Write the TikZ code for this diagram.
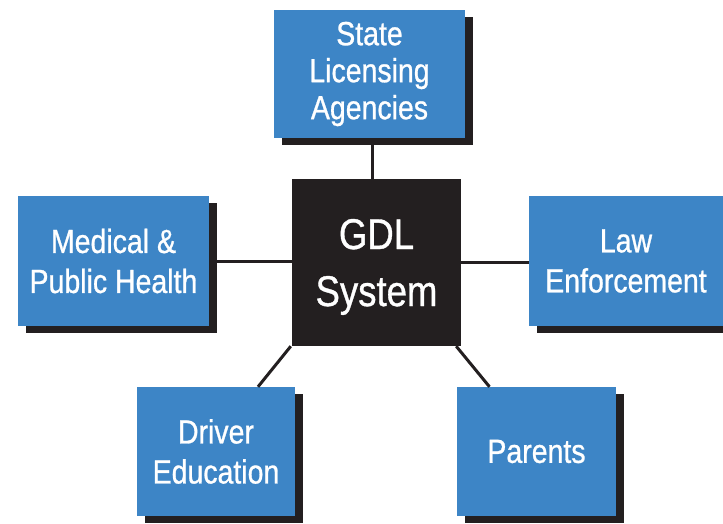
\documentclass[tikz,border=0pt]{standalone}
\usepackage{fontspec}
\usetikzlibrary{calc,shadows}
\newfontfamily\boxfont[FakeStretch=0.85,FakeBold=0.8]{Liberation Sans}
\definecolor{gdlblue}{RGB}{61,133,198}
\definecolor{gdlblack}{RGB}{35,31,32}
\begin{document}
\begin{tikzpicture}[x=1pt,y=-1pt,
    agency/.style={fill=gdlblue, text=white, align=center, inner sep=0pt,
      font=\boxfont\fontsize{33.5}{40}\selectfont,
      drop shadow={shadow xshift=8pt, shadow yshift=-7pt, fill=gdlblack, opacity=1}},
    link/.style={draw=gdlblack, line width=3pt}]
      \useasboundingbox (0,0) rectangle (723,524);
      % centre
      \node (gdl) at (376.5,262.5) [fill=gdlblack, text=white, align=center, inner sep=0pt,
        minimum width=169pt, minimum height=167pt, text depth=0pt,
        font=\boxfont\fontsize{43}{57}\selectfont] {GDL\\System};
      % partners
      \node (sla) at (369.5,74) [agency, minimum width=191pt, minimum height=128pt,
        font=\boxfont\fontsize{33.5}{37}\selectfont] {State\\Licensing\\Agencies};
      \node (med) at (113.5,261) [agency, minimum width=191pt, minimum height=130pt] {Medical \&\\Public Health};
      \node (law) at (626,261) [agency, minimum width=194pt, minimum height=130pt] {Law\\Enforcement};
      \node (drv) at (216,451.5) [agency, minimum width=158pt, minimum height=129pt] {Driver\\Education};
      \node (par) at (536.5,451.5) [agency, minimum width=159pt, minimum height=129pt] {Parents};
      % links
      \draw[link] ($(sla.south)+(3,0)$) -- ($(gdl.north)+(-4,0)$);
      \draw[link] (med.east) -- (med.east -| gdl.west);
      \draw[link] (gdl.east) -- (gdl.east -| law.west);
      \draw[link] ($(gdl.south west)+(-1,0)$) -- ($(drv.north)+(42,0)$);
      \draw[link] ($(gdl.south east)+(-5,0)$) -- ($(par.north)+(-47,0)$);
\end{tikzpicture}
\end{document}
